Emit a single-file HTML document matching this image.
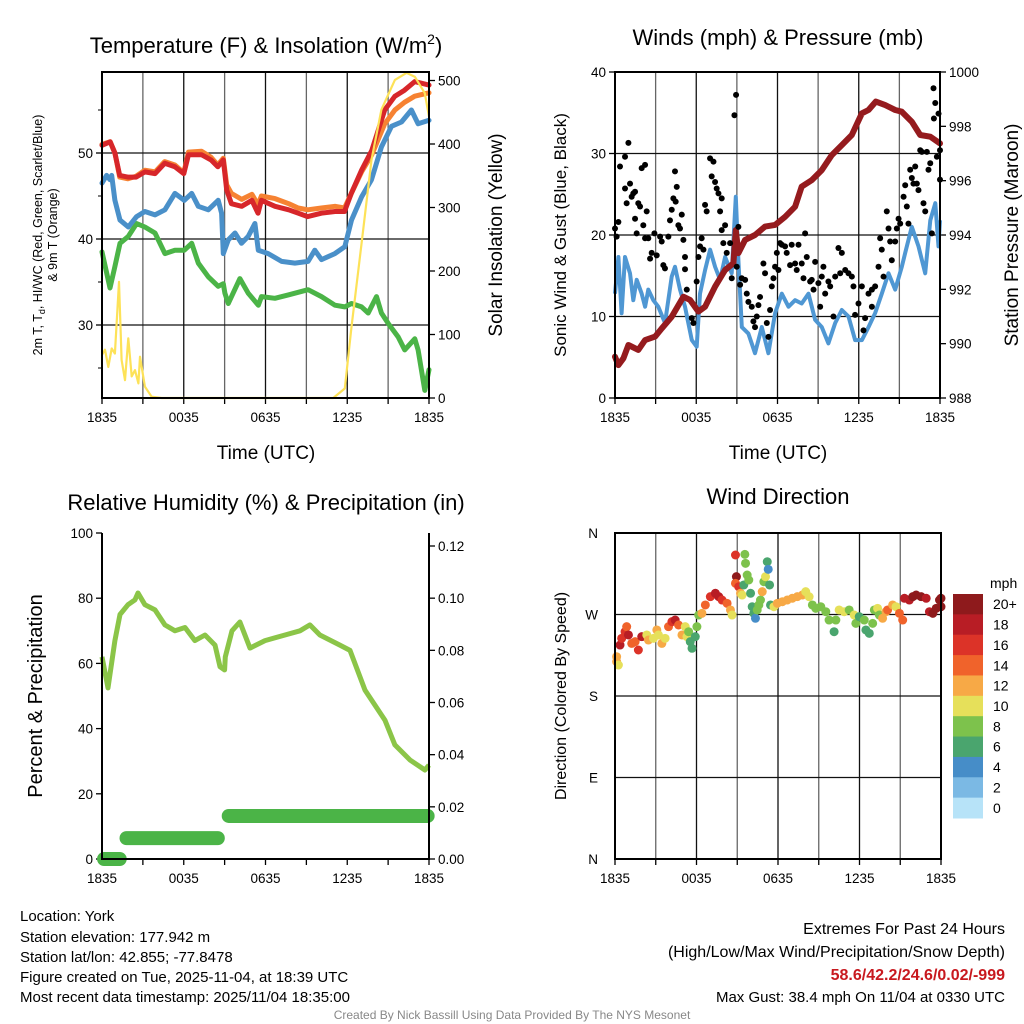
<!DOCTYPE html>
<html><head><meta charset="utf-8"><style>
html,body{margin:0;padding:0;background:#fff}
svg{display:block;font-family:"Liberation Sans",Arial,sans-serif}
</style></head><body>
<svg id="fig" width="1024" height="1024" viewBox="0 0 1024 1024" xmlns="http://www.w3.org/2000/svg">
<rect width="1024" height="1024" fill="#fff"/>
<g id="p1"></g>
<g id="p2"></g>
<g id="p3"></g>
<g id="p4"></g>
<text x="266" y="53" font-size="22" text-anchor="middle">Temperature (F) &amp; Insolation (W/m<tspan font-size="14" dy="-9">2</tspan><tspan dy="9">)</tspan></text>
<text x="778" y="45" font-size="22" text-anchor="middle">Winds (mph) &amp; Pressure (mb)</text>
<text x="266" y="510" font-size="22" text-anchor="middle">Relative Humidity (%) &amp; Precipitation (in)</text>
<text x="778" y="504" font-size="22" text-anchor="middle">Wind Direction</text>
<text x="266" y="459" font-size="19" text-anchor="middle">Time (UTC)</text>
<text x="778" y="459" font-size="19" text-anchor="middle">Time (UTC)</text>
<text transform="translate(42,235) rotate(-90)" font-size="12.5" text-anchor="middle">2m T, T<tspan font-size="9" dy="3">d</tspan><tspan dy="-3">, HI/WC (Red, Green, Scarlet/Blue)</tspan></text>
<text transform="translate(57,235) rotate(-90)" font-size="12.5" text-anchor="middle">&amp; 9m T (Orange)</text>
<text transform="translate(502,235) rotate(-90)" font-size="19" text-anchor="middle">Solar Insolation (Yellow)</text>
<text transform="translate(566,235) rotate(-90)" font-size="17" text-anchor="middle">Sonic Wind &amp; Gust (Blue, Black)</text>
<text transform="translate(1018,235) rotate(-90)" font-size="19" text-anchor="middle">Station Pressure (Maroon)</text>
<text transform="translate(42,696) rotate(-90)" font-size="20" text-anchor="middle">Percent &amp; Precipitation</text>
<text transform="translate(566,696) rotate(-90)" font-size="16" text-anchor="middle">Direction (Colored By Speed)</text>
<g font-size="15">
<text x="20" y="921">Location: York</text>
<text x="20" y="942">Station elevation: 177.942 m</text>
<text x="20" y="962">Station lat/lon: 42.855; -77.8478</text>
<text x="20" y="982">Figure created on Tue, 2025-11-04, at 18:39 UTC</text>
<text x="20" y="1002">Most recent data timestamp: 2025/11/04 18:35:00</text>
</g>
<g font-size="16" text-anchor="end">
<text x="1005" y="934">Extremes For Past 24 Hours</text>
<text x="1005" y="957">(High/Low/Max Wind/Precipitation/Snow Depth)</text>
<text x="1005" y="980" fill="#c8191f" font-weight="bold">58.6/42.2/24.6/0.02/-999</text>
<text x="1005" y="1002" font-size="15">Max Gust: 38.4 mph On 11/04 at 0330 UTC</text>
</g>
<text x="512" y="1019" font-size="12" fill="#888" text-anchor="middle">Created By Nick Bassill Using Data Provided By The NYS Mesonet</text>
</svg>
<script>
// ---- Temperature panel data (hours since 1835 UTC) ----
const redH=[0,0.6,0.95,1.3,1.9,2.5,3.15,3.9,4.6,5.35,6.0,6.35,7.3,8.0,8.5,8.9,9.15,9.5,10.25,11.0,11.45,11.7,12.7,13.7,14.4,15.1,16.1,17.1,17.8,18.3,19.05,19.8,20.75,21.5,22.2,22.95,24];
const redT=[50.9,51.3,50.0,47.4,47.2,47.2,47.8,47.6,48.8,48.4,47.6,49.8,49.8,49.2,48.4,49.2,45.7,44.1,43.8,44.5,43.0,44.5,43.8,43.4,43.0,42.6,43.0,43.2,43.2,45.3,48.0,50.3,55.0,56.6,57.3,58.3,57.9];
const orangeT=[51.0,51.3,50.0,47.2,47.0,47.3,48.0,47.8,49.0,48.6,47.7,50.1,50.2,49.5,48.6,49.4,46.3,45.3,44.6,45.2,44.0,45.0,44.7,44.1,43.6,43.4,43.6,43.8,43.6,45.3,47.8,49.8,53.4,55.0,55.9,56.6,57.0];
const blueH=[0,0.34,0.59,0.71,0.95,1.32,1.93,2.54,3.15,3.89,4.62,5.35,6.04,6.58,7.07,7.8,8.53,8.78,8.9,9.27,9.76,10.24,10.73,11.22,11.47,12.2,13.18,14.16,15.13,15.62,16.11,17.09,17.82,18.31,19.05,19.78,20.51,21.25,21.98,22.71,23.2,24];
const blueT=[46.5,47.4,46.9,47.4,44.5,42.2,41.4,42.6,43.2,42.8,43.4,45.3,44.5,45.3,43.8,43.4,44.5,43.0,38.3,39.9,40.7,39.5,40.3,41.8,38.7,38.3,37.4,37.2,37.4,38.7,37.6,38.3,39.1,42.2,44.9,46.9,50.7,53.1,53.6,55.0,53.4,53.8];
const greenH=[0,0.59,0.95,1.32,1.93,2.54,3.15,3.89,4.62,5.35,6.04,6.58,7.07,7.8,8.53,8.9,9.02,9.27,10.12,10.73,11.47,11.71,12.69,13.67,15.13,16.11,17.09,17.82,18.31,19.05,19.54,20.15,20.51,21.0,21.74,22.22,22.96,23.2,23.69,24];
const greenT=[38.5,34.3,36.8,39.5,40.3,41.8,41.4,40.7,38.3,38.7,38.7,39.5,37.2,35.6,34.5,34.8,33.7,32.5,35.4,33.7,32.3,33.3,33.1,33.5,34.1,33.3,32.3,32.1,32.5,32.1,31.4,33.3,31.4,30.2,28.6,27.1,28.4,27.1,22.4,24.8];
const solarH=[0,0.22,0.46,0.71,0.95,1.25,1.44,1.69,1.93,2.18,2.42,2.67,2.79,3.15,3.64,4.38,16.97,17.82,18.31,19.05,19.78,20.51,21.5,22.35,22.96,23.69,24];
const solarW=[68,76,49,78,70,183,60,28,94,34,44,23,65,18,2,0,0,15,112,244,375,454,501,512,506,480,443];
const tempTicks=[30,40,50];
const solarTicks=[0,100,200,300,400,500];
const timeLabels=['1835','0035','0635','1235','1835'];
// ---- Wind panel data ----
const presH=[0,0.25,0.62,0.99,1.72,2.22,2.96,3.45,4.19,5.05,5.54,6.16,6.65,7.39,8.13,8.74,8.92,9.11,9.61,10.34,11.08,11.82,12.56,13.3,13.79,14.53,15.27,16.01,16.75,17.49,18.23,18.72,19.26,19.95,20.69,21.18,21.92,22.54,23.28,24];
const presMb=[989.52,989.21,989.46,989.95,989.77,990.13,990.26,990.56,990.99,991.73,991.61,991.18,991.36,992.10,992.71,992.96,994.18,993.33,993.82,994.0,994.31,994.37,994.67,995.04,995.78,996.02,996.39,996.94,997.31,997.68,998.48,998.6,998.91,998.78,998.6,998.54,998.17,997.68,997.62,997.37];
const windH=[0,0.25,0.49,0.74,1.11,1.35,1.6,1.97,2.22,2.46,2.83,3.2,3.69,4.19,4.43,4.8,5.17,5.67,6.03,6.28,6.65,7.02,7.39,7.76,8.13,8.62,8.92,9.11,9.36,9.85,10.34,10.84,11.33,11.82,12.32,12.81,13.3,13.79,14.29,14.78,15.27,15.76,16.26,16.75,17.24,17.73,18.23,18.72,19.21,19.7,20.2,20.69,21.18,21.43,21.92,22.41,22.91,23.28,23.65,23.89,24];
const windMph=[12.8,17.3,10.4,17.3,15.3,12.0,14.5,12.8,11.2,13.3,12.0,11.2,9.2,14.9,16.1,13.3,11.2,7.1,6.3,12.8,15.7,18.2,16.1,14.5,17.3,15.3,24.7,16.9,8.7,7.9,5.5,8.7,5.5,10.4,12.8,11.2,12.0,11.6,12.8,9.6,8.7,6.7,9.2,10.8,10.0,7.1,7.1,8.7,10.4,12.8,15.3,13.3,16.1,17.8,21.0,18.6,15.3,21.8,23.9,18.6,21.8];
const gustH=[0,.12,.25,.37,.74,.99,.74,.86,1.11,1.23,1.35,1.48,1.48,1.6,1.72,1.85,1.97,2.09,2.22,2.22,2.34,2.46,2.59,2.71,2.91,3.08,3.33,3.45,3.57,3.69,3.94,4.06,4.19,4.31,4.43,4.48,4.56,4.68,4.8,4.93,5.05,5.17,5.17,5.3,5.67,5.79,6.03,6.16,6.28,6.4,6.53,6.65,6.77,7.02,7.14,7.27,7.39,7.51,7.64,7.76,7.88,7.88,8.0,8.13,8.25,8.5,8.62,8.82,8.94,8.99,9.11,9.24,9.36,9.61,9.73,9.85,10.1,10.22,10.34,10.47,10.59,10.71,10.96,11.08,11.21,11.33,11.45,11.58,11.7,11.82,11.95,12.07,12.19,12.32,12.56,12.68,12.93,13.05,13.3,13.42,13.55,13.79,13.92,14.04,14.16,14.41,14.53,14.66,14.78,15.02,15.15,15.27,15.39,15.52,15.76,15.89,16.13,16.26,16.5,16.63,16.75,17.0,17.24,17.49,17.61,17.73,17.98,18.23,18.35,18.47,18.72,18.97,18.97,19.21,19.46,19.58,19.7,19.83,20.07,20.2,20.32,20.44,20.69,20.81,20.94,21.06,21.31,21.43,21.55,21.67,21.8,21.92,22.04,22.17,22.29,22.41,22.54,22.66,22.78,22.91,23.03,23.15,23.28,23.4,23.52,23.65,23.77,23.89,24.0,24.0,23.55];
const gustMph=[20.8,19.8,21.6,28.4,29.6,31.3,25.7,23.9,26.3,24.7,25.1,25.3,22.0,20.2,23.9,23.5,28.2,21.2,28.6,19.6,22.9,19.6,17.1,17.8,20.2,17.5,19.8,19.2,16.3,15.9,19.8,21.8,23.1,24.5,27.8,24.1,25.9,21.2,20.8,22.5,19.4,17.3,15.8,13.3,9.8,9.2,14.3,17.3,18.6,19.6,18.2,23.7,22.9,29.4,27.2,29.0,26.5,25.7,25.1,22.9,24.5,20.6,19.0,21.2,17.8,19.0,14.7,34.7,37.2,16.1,21.0,13.9,14.7,14.5,12.8,11.8,11.2,9.4,8.7,10.0,11.4,12.4,16.5,15.3,9.2,7.5,10.8,13.7,14.7,16.1,17.8,15.7,19.0,18.8,18.6,17.8,16.3,18.8,16.5,15.7,18.8,16.5,14.7,20.2,17.3,14.3,14.5,13.3,16.7,14.1,11.2,14.9,16.1,12.8,14.3,13.7,10.0,14.9,18.4,15.3,17.8,15.7,15.3,14.9,13.7,10.2,11.6,13.7,8.3,9.8,12.8,13.3,11.2,13.7,16.1,19.6,18.2,14.9,22.9,20.8,19.2,16.9,19.2,20.8,22.0,21.4,24.7,26.1,23.5,21.4,28.0,27.0,26.3,28.4,26.3,25.5,30.4,30.2,23.9,22.9,30.2,28.0,28.8,20.2,38.0,36.2,29.6,34.9,26.8,30.4,34.3];
const windTicks=[0,10,20,30,40];
const presTicks=[988,990,992,994,996,998,1000];
// ---- Humidity panel data ----
const rhH=[0,0.44,0.95,1.32,1.91,2.42,2.64,3.15,3.89,4.62,5.36,6.09,6.82,7.56,8.29,8.66,9.0,9.05,9.54,10.12,10.86,11.96,13.43,14.53,15.26,15.99,17.46,18.2,19.3,20.76,21.5,22.6,23.7,24];
const rhPct=[62,52.5,67,75,78,79.5,81.6,78,76.4,71.8,70,71,67,68.7,65.6,59,58,62,70,72.7,64.7,67,68.7,70,71.8,68.7,65.6,64,51.8,42.6,35,30.4,27.3,28.8];
const precipStartH=[0.15,1.8,9.3];
const precipEndH=[1.3,8.5,23.9];
const precipIn=[0,0.008,0.0165];
const rhTicks=[0,20,40,60,80,100];
const precipTicks=[0,0.02,0.04,0.06,0.08,0.10,0.12];
// ---- Wind direction data ----
const dirH=[.12,.12,.25,.37,.49,.74,.86,.99,1.23,1.48,1.72,1.97,2.34,2.46,2.83,3.08,3.2,3.45,3.69,3.94,4.19,4.43,4.68,4.93,5.17,5.3,5.42,5.54,5.67,5.91,6.03,6.16,6.4,6.65,7.02,7.39,7.64,7.88,8.25,8.5,8.62,8.87,8.94,8.87,9.11,9.24,9.36,9.48,9.56,9.61,9.73,9.85,9.98,10.1,10.22,10.34,10.47,10.59,10.71,10.84,10.96,11.08,11.21,11.28,11.38,11.45,11.7,11.95,12.32,12.68,13.05,13.42,13.79,14.04,14.29,14.53,14.78,15.15,15.52,15.76,16.13,16.26,16.5,16.87,17.24,17.61,17.73,17.98,18.35,18.47,18.72,18.97,19.09,19.33,19.46,19.7,19.95,20.07,20.44,20.69,20.94,21.18,21.31,21.67,21.92,22.17,22.54,22.91,23.15,23.4,23.65,23.89,24.0,24.0];
const dirDeg=[217.9,223.4,214.2,236.3,243.7,251.0,256.6,247.4,238.1,240.0,230.8,245.5,247.4,241.8,243.7,252.9,247.4,238.1,243.7,256.6,262.1,263.9,258.4,247.4,256.6,245.5,251.0,240.0,232.7,245.5,256.6,269.4,271.3,280.5,289.7,293.4,289.7,286.0,282.3,275.0,269.4,335.7,311.8,304.4,300.7,293.4,291.5,302.6,336.4,326.5,313.6,308.1,293.4,278.6,271.3,265.8,275.0,280.5,286.0,295.2,306.2,311.8,328.3,319.9,302.6,280.5,278.6,282.3,284.1,286.0,287.9,289.7,291.5,295.2,289.7,280.5,276.8,278.6,273.1,263.9,251.0,263.9,275.0,273.1,275.0,269.4,260.2,267.6,263.9,252.9,249.2,260.2,275.0,276.8,269.4,265.8,273.1,275.0,280.5,278.6,271.3,263.9,287.9,286.0,289.7,291.5,289.7,287.9,273.1,271.3,276.8,286.0,287.9,278.6];
const dirSpd=[12,12,10,18,16,16,14,18,14,14,16,18,10,12,10,12,10,12,10,14,16,18,14,12,10,10,8,6,6,6,8,8,12,14,16,18,18,16,14,12,10,16,20,14,16,12,10,6,8,8,8,8,6,6,6,4,8,8,8,12,8,10,6,4,6,6,10,12,12,12,12,12,12,10,10,8,8,8,8,8,6,8,10,10,8,10,8,6,8,6,6,8,8,10,8,12,12,14,12,10,14,14,18,18,20,20,20,18,18,20,20,20,20,20];
const dirLabels=['N','E','S','W','N'];
const speedLabels=['20+','18','16','14','12','10','8','6','4','2','0'];
const speedColors=['#8e1a1c','#b81d25','#dc3328','#f0632b','#f7a946','#e6e05a','#7dc24c','#4aa56e','#468dc8','#7bb9e4','#b7e3f8'];

const NS='http://www.w3.org/2000/svg';
function mk(parent,tag,attrs){const e=document.createElementNS(NS,tag);for(const k in attrs)e.setAttribute(k,attrs[k]);parent.appendChild(e);return e;}
function lin(d0,d1,r0,r1){return v=>r0+(v-d0)*(r1-r0)/(d1-d0);}
function pathD(xs,ys,fx,fy){return xs.map((h,i)=>(i?'L':'M')+fx(h).toFixed(1)+','+fy(ys[i]).toFixed(1)).join('');}
function frame(g,L,T,R,B,fx,grid){
  for(let h=3;h<24;h+=3){const l=mk(g,'line',{x1:fx(h),x2:fx(h),y1:T,y2:B,stroke:(h%6===0)?'#111':'#666','stroke-width':1.3});
    
    }
  for(let h=0;h<=24;h+=3){const t=mk(g,'line',{x1:fx(h),x2:fx(h),y1:B,y2:B+6,stroke:'#000','stroke-width':1.3});
    
    }
  timeLabels.forEach((s,i)=>{const t=mk(g,'text',{x:fx(i*6),y:B+24,'font-size':13.5,'text-anchor':'middle'});t.textContent=s;
    
    });
}
function border(g,L,T,R,B){const r=mk(g,'rect',{x:L,y:T,width:R-L,height:B-T,fill:'none',stroke:'#000','stroke-width':2});
  
  }
function yTicks(g,vals,fy,x,side,fmt,grid,L,R){
  vals.forEach(v=>{const y=fy(v);
    if(grid){const gl=mk(g,'line',{x1:L,x2:R,y1:y,y2:y,stroke:'#111','stroke-width':1.3});
      
      }
    const tk=mk(g,'line',{x1:x,x2:x+(side<0?-6:6),y1:y,y2:y,stroke:'#000','stroke-width':1.3});
    
    
    const t=mk(g,'text',{x:x+(side<0?-9:9),y:y+5,'font-size':13.5,'text-anchor':side<0?'end':'start'});t.textContent=fmt(v);
    
    });
}
// Panel 1
(function(){const g=document.getElementById('p1');const L=102,T=72,R=429,B=398;
  const fx=lin(0,24,L,R),fy=lin(30,50,325,153),fs=lin(0,500,398,80.5);
  frame(g,L,T,R,B,fx);
  yTicks(g,tempTicks,fy,L,-1,v=>v,true,L,R);
  [25,35,45,55].forEach(v=>{const t=mk(g,'line',{x1:L,x2:L-4,y1:fy(v),y2:fy(v),stroke:'#000'});});
  yTicks(g,solarTicks,fs,R,1,v=>v,false);
  const series=[[greenH,greenT,'#4bb447','green-dewpoint-line'],[blueH,blueT,'#4a90c9','blue-windchill-line'],[redH,orangeT,'#f68232','orange-9m-temp-line'],[redH,redT,'#d7262a','red-2m-temp-line']];
  series.forEach(s=>{const p=mk(g,'path',{d:pathD(s[0],s[1],fx,fy),fill:'none',stroke:s[2],'stroke-width':5,'stroke-linejoin':'round','stroke-linecap':'round'});
    
    });
  const sp=mk(g,'path',{d:pathD(solarH,solarW,fx,fs),fill:'none',stroke:'#fde258','stroke-width':2.2,'stroke-linejoin':'round'});
  
  
  border(g,L,T,R,B);})();
// Panel 2
(function(){const g=document.getElementById('p2');const L=615,T=72,R=940,B=398;
  const fx=lin(0,24,L,R),fy=lin(0,40,B,T),fp=lin(988,1000,B,T);
  frame(g,L,T,R,B,fx);
  yTicks(g,windTicks,fy,L,-1,v=>v,true,L,R);
  yTicks(g,presTicks,fp,R,1,v=>v,false);
  const wp=mk(g,'path',{d:pathD(windH,windMph,fx,fy),fill:'none',stroke:'#4f97d3','stroke-width':4,'stroke-linejoin':'round'});
  
  
  const pp=mk(g,'path',{d:pathD(presH,presMb,fx,fp),fill:'none',stroke:'#951b1e','stroke-width':6,'stroke-linejoin':'round','stroke-linecap':'round'});
  
  
  gustH.forEach((h,i)=>{const c=mk(g,'circle',{cx:fx(h),cy:fy(gustMph[i]),r:3,fill:'#000'});
    
    });
  border(g,L,T,R,B);})();
// Panel 3
(function(){const g=document.getElementById('p3');const L=102,T=533,R=429,B=859;
  const fx=lin(0,24,L,R),fy=lin(0,100,B,T),fp=lin(0,0.12,B,546);
  for(let h=0;h<=24;h+=3){const t=mk(g,'line',{x1:fx(h),x2:fx(h),y1:B,y2:B+6,stroke:'#000','stroke-width':1.3});}
  timeLabels.forEach((s,i)=>{const t=mk(g,'text',{x:fx(i*6),y:B+24,'font-size':13.5,'text-anchor':'middle'});t.textContent=s;
    
    });
  yTicks(g,rhTicks,fy,L,-1,v=>v,false);
  yTicks(g,precipTicks,fp,R,1,v=>v.toFixed(2),false);
  const rp=mk(g,'path',{d:pathD(rhH,rhPct,fx,fy),fill:'none',stroke:'#8bc548','stroke-width':5,'stroke-linejoin':'round'});
  
  
  precipIn.forEach((v,i)=>{const l=mk(g,'line',{x1:fx(precipStartH[i]),x2:fx(precipEndH[i]),y1:fp(v),y2:fp(v),stroke:'#4bb447','stroke-width':14,'stroke-linecap':'round'});
    
    });
  const ax=mk(g,'path',{d:`M${L},${T}V${B}H${R}V${T}`,fill:'none',stroke:'#000','stroke-width':2});
  
  })();
// Panel 4
(function(){const g=document.getElementById('p4');const L=615,T=533,R=941,B=859;
  const fx=lin(0,24,L,R),fy=lin(0,360,B,T);
  frame(g,L,T,R,B,fx);
  dirLabels.forEach((s,i)=>{const y=fy(i*90);
    if(i>0&&i<4){const gl=mk(g,'line',{x1:L,x2:R,y1:y,y2:y,stroke:'#111','stroke-width':1.3});}
    const t=mk(g,'text',{x:L-17,y:y+5,'font-size':13.5,'text-anchor':'end'});t.textContent=s;
    
    });
  function col(s){const k=Math.min(10,Math.max(0,Math.round(s/2)));return speedColors[10-k];}
  dirH.forEach((h,i)=>{const c=mk(g,'circle',{cx:fx(h),cy:fy(dirDeg[i]),r:4.5,fill:col(dirSpd[i])});
    
    });
  border(g,L,T,R,B);
  const cb=mk(g,'g',{});
  
  
  const h=(818-594)/11;
  speedColors.forEach((c,i)=>{const r=mk(cb,'rect',{x:953,y:594+i*h,width:30,height:h+0.5,fill:c});
    
    
    const t=mk(cb,'text',{x:993,y:594+i*h+h/2+5,'font-size':14});t.textContent=speedLabels[i];
    
    });
  const u=mk(cb,'text',{x:990,y:588,'font-size':14});u.textContent='mph';
  
  })();
</script>
</body></html>
